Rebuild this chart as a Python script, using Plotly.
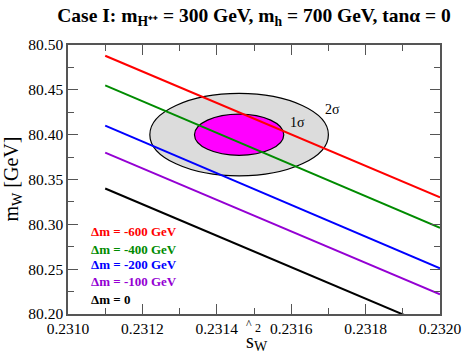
import plotly.graph_objects as go

# line endpoints in s_W^2, one line per mass splitting
s_range = [0.2311, 0.2320]
delta_m = [-600, -400, -200, -100, 0]
mw_at_start = [80.488, 80.455, 80.410, 80.380, 80.340]
mw_at_end = [80.330, 80.296, 80.251, 80.222, 80.182]
line_colors = ["#ff0000", "#008b00", "#0000ff", "#9400d3", "#000000"]
labels = ["Δm = -600 GeV", "Δm = -400 GeV", "Δm = -200 GeV", "Δm = -100 GeV", "Δm = 0"]

# experimental point and 1 sigma errors
s_center, s_err = 0.23146, 0.00012
mw_center, mw_err = 80.400, 0.023

SERIF = "Times New Roman, Liberation Serif, Times, serif"


def main():
    fig = go.Figure()

    # 2 sigma then 1 sigma ellipses, under the lines
    for n, fill in [(2, "#dcdcdc"), (1, "#ff00ff")]:
        fig.add_shape(
            type="circle", xref="x", yref="y", layer="below",
            x0=s_center - n * s_err, x1=s_center + n * s_err,
            y0=mw_center - n * mw_err, y1=mw_center + n * mw_err,
            fillcolor=fill, line=dict(color="black", width=1.2),
        )

    for i in range(len(delta_m)):
        fig.add_trace(go.Scatter(
            x=s_range, y=[mw_at_start[i], mw_at_end[i]],
            mode="lines", line=dict(color=line_colors[i], width=2),
            showlegend=False, hoverinfo="skip",
        ))

    # hand-placed legend text
    legend_y = [80.2915, 80.2714, 80.2547, 80.2368, 80.2167]
    for i, lab in enumerate(labels):
        fig.add_annotation(
            x=0.231057, y=legend_y[i], xanchor="left", yanchor="middle",
            text=f"<b>{lab}</b>", showarrow=False,
            font=dict(family=SERIF, size=13, color=line_colors[i]),
        )

    fig.add_annotation(x=0.231618, y=80.414, text="1σ", showarrow=False,
                       font=dict(family=SERIF, size=14, color="black"))
    fig.add_annotation(x=0.231712, y=80.4286, text="2σ", showarrow=False,
                       font=dict(family=SERIF, size=14, color="black"))

    # axis titles
    fig.add_annotation(x=(12 - 68) / 372, y=0.5, xref="paper", yref="paper",
                       xanchor="center", yanchor="middle", showarrow=False,
                       text="m<sub>W</sub> [GeV]", textangle=-90,
                       font=dict(family=SERIF, size=20, color="black"))
    for txt, px, py, size in [("^", 249, 324, 12), ("s", 250, 341, 20),
                              ("2", 258, 328, 12), ("W", 261, 346, 14)]:
        fig.add_annotation(x=(px - 68) / 372, y=(314 - py) / 269,
                           xref="paper", yref="paper", text=txt,
                           xanchor="center", yanchor="middle",
                           showarrow=False,
                           font=dict(family=SERIF, size=size, color="black"))

    axis_style = dict(
        showline=True, linecolor="#555", linewidth=1.5, mirror="allticks",
        ticks="inside", ticklen=10, tickwidth=1.2, tickcolor="#555",
        showgrid=False, zeroline=False, automargin=False,
        tickfont=dict(family=SERIF, size=15.5, color="black"),
    )
    fig.update_xaxes(range=[0.2310, 0.2320], dtick=0.0002, tick0=0.2310,
                     tickformat=".4f",
                     minor=dict(dtick=0.0001, ticks="inside", ticklen=6,
                                tickcolor="#555"),
                     **axis_style)
    fig.update_yaxes(range=[80.20, 80.50], dtick=0.05, tick0=80.20,
                     tickformat=".2f",
                     minor=dict(dtick=0.025, ticks="inside", ticklen=6,
                                tickcolor="#555"),
                     **axis_style)

    fig.update_layout(
        width=463, height=355,
        margin=dict(l=68, r=23, t=45, b=41),
        paper_bgcolor="white", plot_bgcolor="white",
        font=dict(family=SERIF),
        title=dict(
            text="<b>Case I: m<sub>H⁺⁺</sub> = 300 GeV, m<sub>h</sub> = 700 GeV, tanα = 0</b>",
            x=(68 + 440) / 2 / 463, xanchor="center", y=1 - 15 / 355, yanchor="middle",
            font=dict(family=SERIF, size=19.5, color="black"),
        ),
    )
    # drop the browser's default body margin so the figure sits at the corner
    fig.write_html("out.html", config={"displayModeBar": False},
                   post_script="document.body.style.margin = '0';")


if __name__ == "__main__":
    main()
